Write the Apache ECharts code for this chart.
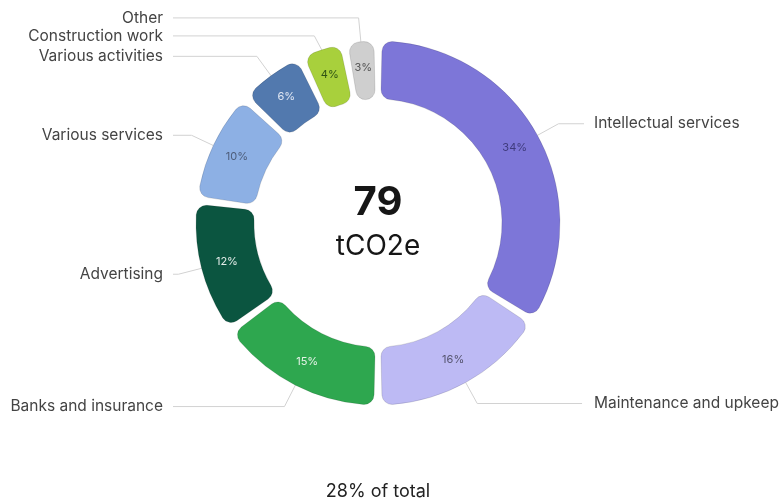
<!DOCTYPE html>
<html>
<head>
<meta charset="utf-8">
<script src="https://cdn.jsdelivr.net/npm/echarts@6/dist/echarts.min.js"></script>
<style>
  html, body { margin: 0; padding: 0; background: #fff; }
  #chart { width: 780px; height: 501px; }
</style>
</head>
<body>
<div id="chart"></div>
<script>
const categories = [
  "Intellectual services",
  "Maintenance and upkeep",
  "Banks and insurance",
  "Advertising",
  "Various services",
  "Various activities",
  "Construction work",
  "Other",
];
const shares = [34, 16, 15, 12, 10, 6, 4, 3];
const sliceColors = ["#7d76d8", "#bdbaf4", "#2ea74f", "#0b5540", "#8db0e4", "#5279ae", "#a8d03c", "#cfcfcf"];
const pctColors = ["#3f3b7d", "#55546e", "#e6f3e8", "#e3ece8", "#4d5d7a", "#e1e8f4", "#2f5314", "#555555"];
const totalValue = "79";
const totalUnit = "tCO2e";
const footNote = "28% of total";

const FONT = "Inter, 'Noto Sans', sans-serif";
const CENTER = [378, 223];
const RADIUS = [124, 182];

// which side of the ring each label falls on (mid angle past half = left side)
const totalShare = shares.reduce((a, b) => a + b, 0);
let running = 0;
const onRight = shares.map((v) => {
  const mid = running + v / 2;
  running += v;
  return mid < totalShare / 2;
});

const chart = echarts.init(document.getElementById("chart"));

const ringData = categories.map((name, i) => ({
  name,
  value: shares[i],
  itemStyle: { color: sliceColors[i] },
}));

const pctData = categories.map((name, i) => ({
  name,
  value: shares[i],
  label: { color: pctColors[i] },
}));

const nameStyle = { fontFamily: FONT, fontSize: 15.5, lineHeight: 15, color: "#444" };

chart.setOption({
  animation: false,
  series: [
    {
      type: "pie",
      center: CENTER,
      radius: RADIUS,
      startAngle: 90,
      clockwise: true,
      padAngle: 2.6,
      avoidLabelOverlap: true,
      itemStyle: {
        borderRadius: 10,
        borderColor: "rgba(0,0,0,0.12)",
        borderWidth: 1,
      },
      label: {
        show: true,
        position: "outside",
        alignTo: "edge",
        edgeDistance: 3,
        bleedMargin: 0,
        distanceToLabelLine: 10,
        overflow: "none",
        lineHeight: 15,
        fontSize: 15.5,
        formatter: (p) => (onRight[p.dataIndex] ? `{r|${p.name}}` : `{l|${p.name}}`),
        rich: {
          l: { ...nameStyle, width: 160, align: "right" },
          r: { ...nameStyle, width: 183, align: "left" },
        },
      },
      labelLine: {
        show: true,
        length: 24,
        length2: 1,
        minTurnAngle: 0,
        maxSurfaceAngle: 180,
        lineStyle: { color: "#d2d2d2", width: 1 },
      },
      emphasis: { disabled: true },
      data: ringData,
    },
    {
      type: "pie",
      center: CENTER,
      radius: RADIUS,
      startAngle: 90,
      clockwise: true,
      padAngle: 2.6,
      silent: true,
      itemStyle: { color: "transparent", borderWidth: 0 },
      label: {
        show: true,
        position: "inside",
        fontFamily: FONT,
        fontSize: 11,
        formatter: "{c}%",
      },
      labelLine: { show: false },
      emphasis: { disabled: true },
      data: pctData,
    },
  ],
  graphic: [
    {
      type: "text",
      x: CENTER[0],
      y: 203,
      style: {
        text: totalValue,
        align: "center",
        verticalAlign: "middle",
        font: `bold 40px ${FONT}`,
        fill: "#161616",
      },
    },
    {
      type: "text",
      x: CENTER[0],
      y: 247,
      style: {
        text: totalUnit,
        align: "center",
        verticalAlign: "middle",
        font: `28px ${FONT}`,
        fill: "#161616",
      },
    },
    {
      type: "text",
      x: CENTER[0],
      y: 492,
      style: {
        text: footNote,
        align: "center",
        verticalAlign: "middle",
        font: `18px ${FONT}`,
        fill: "#222",
      },
    },
  ],
});
</script>
</body>
</html>
